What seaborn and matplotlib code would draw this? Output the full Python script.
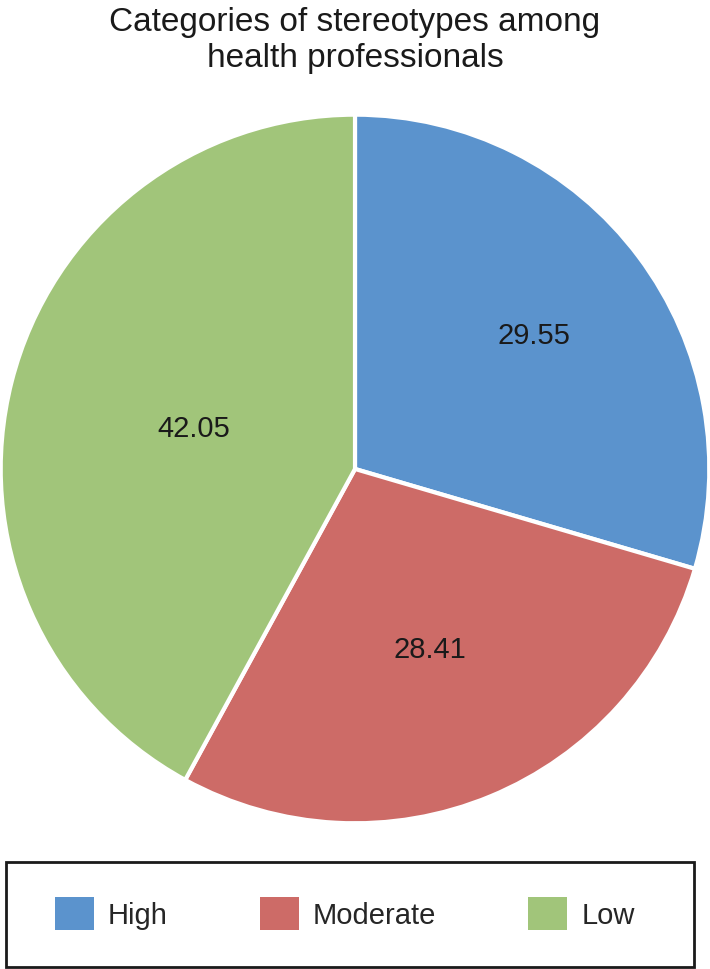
import numpy as np
import matplotlib
matplotlib.use("Agg")
import matplotlib.pyplot as plt
import seaborn as sns
from matplotlib.patches import Rectangle

# data
categories = ["High", "Moderate", "Low"]
shares = [29.55, 28.41, 42.05]
colors = ["#5B93CD", "#CD6B67", "#A1C57A"]
label_radius = [0.63, 0.55, 0.47]  # where Excel put each value label

sns.set_theme(style="white")
plt.rcParams["font.family"] = ["Liberation Sans", "DejaVu Sans"]

fig = plt.figure(figsize=(7.1, 9.7), dpi=100)
ax = fig.add_axes([0, 0.1495, 1, 0.732])

wedges, _ = ax.pie(shares, colors=colors, startangle=90, counterclock=False,
                   radius=1.0, wedgeprops=dict(edgecolor="white", linewidth=3))
ax.set_xlim(-1.002, 1.002)
ax.set_ylim(-1.002, 1.002)
ax.set_aspect("equal")
ax.axis("off")

# value labels
for w, val, r in zip(wedges, shares, label_radius):
    ang = np.deg2rad((w.theta1 + w.theta2) / 2)
    ax.text(r * np.cos(ang), r * np.sin(ang), f"{val:.2f}",
            ha="center", va="center", fontsize=21, color="#1a1a1a")

fig.text(0.5, 0.993, "Categories of stereotypes among\nhealth professionals",
         ha="center", va="top", fontsize=24, color="#1a1a1a", linespacing=1.22)

# legend frame
fig.patches.append(Rectangle((0.0085, 0.002), 0.969, 0.108, transform=fig.transFigure,
                             fill=False, edgecolor="#1a1a1a", linewidth=2))
leg = fig.legend(wedges, categories, loc="center left", bbox_to_anchor=(0.0775, 0.057),
                 ncol=3, frameon=False, fontsize=21, handlelength=1.34, handleheight=1.34,
                 handletextpad=0.48, columnspacing=3.15, borderpad=0, borderaxespad=0)
for h in leg.legend_handles:
    h.set_edgecolor("none")

fig.savefig("out.png", dpi=100)
